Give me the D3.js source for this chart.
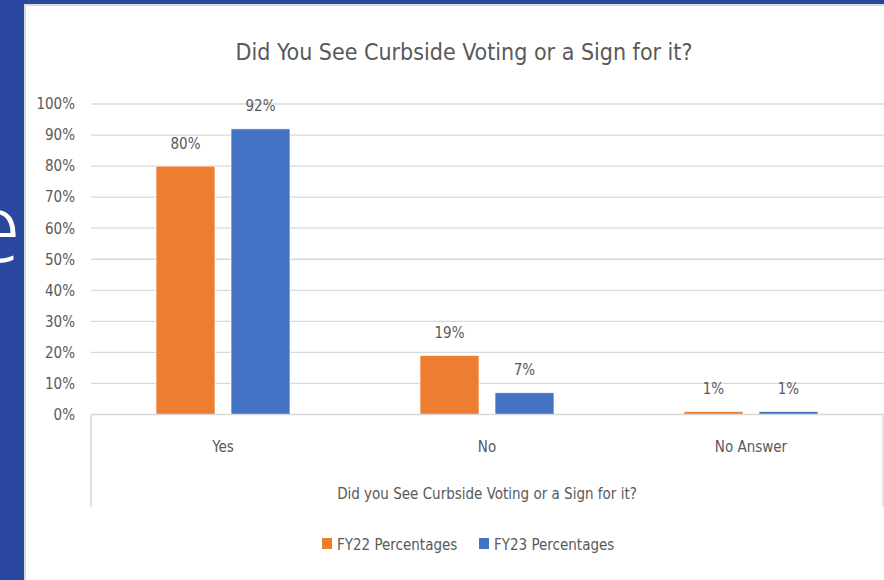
<!DOCTYPE html>
<meta charset="utf-8">
<style>
  body { margin: 0; overflow: hidden; }
  text { font-family: "DejaVu Sans Condensed", "DejaVu Sans", sans-serif; fill: #595959; }
</style>
<body>
<script src="https://d3js.org/d3.v7.min.js"></script>
<script>
  var categories = ["Yes", "No", "No Answer"];
  var seriesNames = ["FY22 Percentages", "FY23 Percentages"];
  var fy22 = [80, 19, 1];
  var fy23 = [92, 7, 1];
  var yTicks = [0, 10, 20, 30, 40, 50, 60, 70, 80, 90, 100];
  var colors = ["#ED7D31", "#4472C4"];

  var width = 884, height = 580;

  var svg = d3.select("body").append("svg")
      .attr("width", width)
      .attr("height", height);

  // slide background and chart panel
  svg.append("rect").attr("width", width).attr("height", height).attr("fill", "#2a47a0");
  svg.append("text")
      .attr("x", 21).attr("y", 262)
      .attr("text-anchor", "end")
      .style("font-family", "'Open Sans', sans-serif")
      .style("font-weight", 300)
      .style("font-size", "96px")
      .style("fill", "#ffffff")
      .text("e");
  svg.append("rect")
      .attr("x", 25).attr("y", 5)
      .attr("width", width).attr("height", height)
      .attr("fill", "#ffffff")
      .attr("stroke", "#d9d9d9")
      .attr("stroke-width", 2);

  var plotLeft = 91, plotRight = 883, plotTop = 104, plotBottom = 414.5;

  var x = d3.scaleBand().domain(categories).range([plotLeft, plotRight]);
  var x1 = d3.scaleBand().domain(seriesNames).range([0, 134]).paddingInner(0.2133);
  var y = d3.scaleLinear().domain([0, 100]).range([plotBottom, plotTop]);

  // gridlines
  svg.append("g").selectAll("line")
    .data(yTicks.filter(function(d) { return d > 0; }))
    .enter().append("line")
      .attr("x1", plotLeft).attr("x2", width)
      .attr("y1", function(d) { return y(d); })
      .attr("y2", function(d) { return y(d); })
      .attr("stroke", "#d9d9d9")
      .attr("stroke-width", 1.3);

  // y axis labels
  var yAxis = svg.append("g")
      .attr("transform", "translate(" + (plotLeft - 12) + ",0)")
      .call(d3.axisLeft(y).tickValues(yTicks).tickSize(0).tickPadding(4)
        .tickFormat(function(d) { return d + "%"; }));
  yAxis.select(".domain").remove();
  yAxis.selectAll("text").style("font-size", "15px").attr("fill", null);

  // bars
  var rows = categories.map(function(c, i) { return [fy22[i], fy23[i]]; });
  var groups = svg.append("g").selectAll("g")
    .data(rows)
    .enter().append("g")
      .attr("transform", function(d, i) {
        return "translate(" + (x(categories[i]) + x.bandwidth() / 2 - 67) + ",0)";
      });

  groups.selectAll("rect")
    .data(function(d) { return d; })
    .enter().append("rect")
      .attr("x", function(d, j) { return x1(seriesNames[j]); })
      .attr("y", function(d) { return y(d); })
      .attr("width", x1.bandwidth())
      .attr("height", function(d) { return y(0) - y(d); })
      .attr("fill", function(d, j) { return colors[j]; })
      .attr("stroke", "#ffffff")
      .attr("stroke-width", 0.7);

  groups.selectAll("text")
    .data(function(d) { return d; })
    .enter().append("text")
      .attr("x", function(d, j) { return x1(seriesNames[j]) + x1.bandwidth() / 2; })
      .attr("y", function(d) { return y(d) - 17.5; })
      .attr("text-anchor", "middle")
      .style("font-size", "15px")
      .text(function(d) { return d + "%"; });

  // category axis box
  var axisColor = "#d9d9d9";
  svg.append("line").attr("x1", plotLeft).attr("x2", width).attr("y1", plotBottom).attr("y2", plotBottom)
      .attr("stroke", axisColor).attr("stroke-width", 1.5);
  svg.append("line").attr("x1", plotLeft).attr("x2", plotLeft).attr("y1", plotBottom).attr("y2", 507)
      .attr("stroke", axisColor).attr("stroke-width", 1.5);
  svg.append("line").attr("x1", plotRight).attr("x2", plotRight).attr("y1", plotBottom).attr("y2", 507)
      .attr("stroke", axisColor).attr("stroke-width", 1.5);

  var xAxis = svg.append("g")
      .attr("transform", "translate(0," + plotBottom + ")")
      .call(d3.axisBottom(x).tickSize(0).tickPadding(27));
  xAxis.select(".domain").remove();
  xAxis.selectAll("text").style("font-size", "15px").attr("fill", null);

  // titles
  svg.append("text")
      .attr("x", 464).attr("y", 60)
      .attr("text-anchor", "middle")
      .style("font-size", "23px")
      .text("Did You See Curbside Voting or a Sign for it?");

  svg.append("text")
      .attr("x", 487).attr("y", 499)
      .attr("text-anchor", "middle")
      .style("font-size", "15px")
      .text("Did you See Curbside Voting or a Sign for it?");

  // legend
  var legendX = [322, 479];
  var legend = svg.append("g").selectAll("g")
    .data(seriesNames)
    .enter().append("g")
      .attr("transform", function(d, i) { return "translate(" + legendX[i] + ",538)"; });
  legend.append("rect")
      .attr("width", 10).attr("height", 11)
      .attr("fill", function(d, i) { return colors[i]; });
  legend.append("text")
      .attr("x", 15).attr("y", 11.5)
      .style("font-size", "15px")
      .text(function(d) { return d; });
</script>
</body>
</html>
